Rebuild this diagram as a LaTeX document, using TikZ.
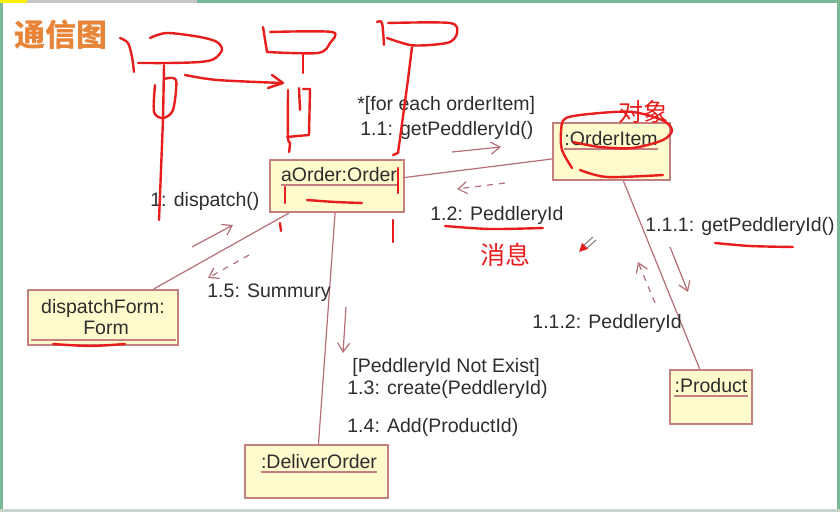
\documentclass[tikz,border=0pt]{standalone}
\usepackage{fontspec}
\setmainfont{Liberation Sans}
\newfontfamily\cjk{Noto Sans CJK SC}
\usetikzlibrary{arrows.meta}

\definecolor{objfill}{RGB}{255,251,204}
\definecolor{objline}{RGB}{196,128,128}
\definecolor{linkline}{RGB}{180,110,118}
\definecolor{msgtext}{RGB}{45,45,45}
\definecolor{penred}{RGB}{232,30,30}
\definecolor{titleorange}{RGB}{232,132,56}
\definecolor{framegreen}{RGB}{124,184,152}

\tikzset{
  objbox/.style={draw=objline, fill=objfill, line width=1pt, inner sep=0pt},
  objname/.style={anchor=base, inner sep=0pt, text depth=0pt, text=msgtext,
    font=\fontsize{9.75}{10.5}\selectfont},
  uline/.style={draw=objline, line width=0.6pt},
  link/.style={draw=linkline, line width=0.6pt},
  msg/.style={draw=linkline, line width=0.6pt, -{Straight Barb[length=4.5pt,width=6pt]}},
  reply/.style={msg, dashed},
  msglabel/.style={anchor=west, inner sep=0pt, text=msgtext,
    font=\fontsize{9.75}{10.5}\selectfont},
  redpen/.style={draw=penred, line width=1.2pt, line cap=round, line join=round},
}

\begin{document}
\begin{tikzpicture}[x=0.5pt, y=-0.5pt]
    \useasboundingbox (0,0) rectangle (840,512);
    % 画面边框 (截图的绿色边)
    \fill[framegreen] (0,0) rectangle (3,512);
    \fill[framegreen] (837,0) rectangle (840,512);
    \fill[yellow] (0,0) rectangle (27,3);
    \fill[gray!45] (27,0) rectangle (197,3);
    \fill[framegreen] (197,0) rectangle (840,3);
    \fill[framegreen!40!gray!40] (0,509) rectangle (840,512);

    % 标题
    \node[text=titleorange, font=\cjk\bfseries\fontsize{15.5}{16}\selectfont] (title) at (61,35) {通信图};

    % --- 对象 ---
    \node[objbox, minimum width=67pt, minimum height=26pt] (order) at (337,186) {};
    \node[objbox, minimum width=58.5pt, minimum height=28.5pt] (item) at (611.5,151.5) {};
    \node[objbox, minimum width=75pt, minimum height=27.5pt] (form) at (103,317.5) {};
    \node[objbox, minimum width=71.5pt, minimum height=26.5pt] (deliver) at (316.5,471.5) {};
    \node[objbox, minimum width=41pt, minimum height=27pt] (product) at (711,397) {};

    % 对象名 (带下划线)
    \node[objname] (ordername) at (339,182) {aOrder:Order};
    \node[objname] (itemname) at (611,146) {:OrderItem};
    \node[objname] (formname) at (103,314) {dispatchForm:};
    \node[objname] (formname2) at (106,335) {Form};
    \node[objname] (delivername) at (319,469) {:DeliverOrder};
    \node[objname] (productname) at (711,393) {:Product};
    \draw[uline] ([yshift=-1.5pt]ordername.base west) -- ([yshift=-1.5pt]ordername.base east);
    \draw[uline] ([yshift=-1.5pt]itemname.base west) -- ([yshift=-1.5pt]itemname.base east);
    \draw[uline] ([xshift=2pt,yshift=3pt]form.south west) -- ([xshift=-1.5pt,yshift=3pt]form.south east);
    \draw[uline] ([yshift=-1.5pt]delivername.base west) -- ([yshift=-1.5pt]delivername.base east);
    \draw[uline] ([yshift=-1.5pt]productname.base west) -- ([yshift=-1.5pt]productname.base east);

    % --- 链接 ---
    \draw[link] (order) -- (item);
    \draw[link] (order) -- (form);
    \draw[link] (order) -- (deliver);
    \draw[link] (item) -- (product);

    % --- 消息箭头 ---
    \coordinate (m11a) at (452,152);  \coordinate (m11b) at (501,147);
    \coordinate (m12a) at (505,183);  \coordinate (m12b) at (457,189);
    \coordinate (m1a) at (192,247);   \coordinate (m1b) at (233,225);
    \coordinate (m15a) at (249,255);  \coordinate (m15b) at (208,278);
    \coordinate (m13a) at (346,307);  \coordinate (m13b) at (343,353);
    \coordinate (m111a) at (670,247); \coordinate (m111b) at (688,292);
    \coordinate (m112a) at (655,303); \coordinate (m112b) at (638,262);
    \draw[msg] (m11a) -- (m11b);
    \draw[reply] (m12a) -- (m12b);
    \draw[msg] (m1a) -- (m1b);
    \draw[reply] (m15a) -- (m15b);
    \draw[msg] (m13a) -- (m13b);
    \draw[msg] (m111a) -- (m111b);
    \draw[reply] (m112a) -- (m112b);

    % 消息文字
    \node[msglabel] (l11g) at (357,105) {*[for each orderItem]};
    \node[msglabel] (l11) at (360,130) {1.1: getPeddleryId()};
    \node[msglabel] (l12) at (430,215) {1.2: PeddleryId};
    \node[msglabel] (l1) at (150,201) {1: dispatch()};
    \node[msglabel] (l15) at (207,293) {1.5: Summury};
    \node[msglabel] (l13g) at (352,367) {[PeddleryId Not Exist]};
    \node[msglabel] (l13) at (347,389) {1.3: create(PeddleryId)};
    \node[msglabel] (l14) at (347,427) {1.4: Add(ProductId)};
    \node[msglabel] (l111) at (645,226) {1.1.1: getPeddleryId()};
    \node[msglabel] (l112) at (532,323) {1.1.2: PeddleryId};

    % --- 红色手写批注 ---
    \node[text=penred, font=\cjk\fontsize{12.5}{13}\selectfont] (objnote) at (643,112) {对象};
    \node[text=penred, font=\cjk\fontsize{12.5}{13}\selectfont] (msgnote) at (505,255) {消息};

    % 左边的小人
    \draw[redpen] plot[smooth] coordinates {(120,38) (128,43) (132,57) (134,72)};
    \draw[redpen] plot[smooth] coordinates {(150,38) (167,33) (200,37) (217,42) (222,50) (214,59) (200,62) (170,63) (138,63)};
    \draw[redpen] plot[smooth] coordinates {(164,65) (163,117) (161,170) (159,220)};
    \draw[redpen] plot[smooth] coordinates {(155,85) (154,112) (163,118) (173,110) (176,80) (164,79)};
    \draw[redpen] plot[smooth] coordinates {(185,75) (217,80) (282,83)};
    \draw[redpen] (272,75) -- (283,83) -- (268,88);
    % 中间的小人
    \draw[redpen] (263,27) -- (267,52);
    \draw[redpen] plot[smooth] coordinates {(270,32) (332,32) (330,43) (318,53) (267,52)};
    \draw[redpen] (303,53) -- (303,73);
    \draw[redpen] plot[smooth] coordinates {(288,90) (288,137) (290,143) (289,152)};
    \draw[redpen] (299,88) -- (300,110);
    \draw[redpen] (303,89) -- (310,89) -- (309,135) -- (287,137);
    % 右边的小人
    \draw[redpen] plot[smooth] coordinates {(377,22) (382,23) (384,45)};
    \draw[redpen] plot[smooth] coordinates {(388,23) (450,23) (457,33) (450,42) (430,45) (410,45) (387,38)};
    \draw[redpen] plot[smooth] coordinates {(412,47) (407,87) (398,153)};
    \draw[redpen] (398,153) -- (393,155);
    % aOrder 上的记号
    \draw[redpen] (285,187) -- (285,203);
    \draw[redpen] plot[smooth] coordinates {(307,200) (335,202) (362,203)};
    \draw[redpen] (398,168) -- (398,193);
    \draw[redpen] (280,223) -- (281,231);
    \draw[redpen] (393,220) -- (393,242);
    % OrderItem 上的圈
    \draw[redpen] plot[smooth] coordinates {(572,168) (562,150) (561,132) (566,118) (600,113) (633,112) (662,120) (672,130) (663,140) (633,148) (600,147) (573,142)};
    \draw[redpen] plot[smooth] coordinates {(580,170) (607,177) (663,175)};
    % 下划线
    \draw[redpen] plot[smooth] coordinates {(445,226) (490,229) (543,228)};
    \draw[redpen] plot[smooth] coordinates {(715,243) (750,246) (793,247)};
    \draw[redpen] plot[smooth] coordinates {(53,344) (90,346) (125,344)};

    % 鼠标指针
    \draw[gray, line width=0.5pt] (593,237) -- (583,246);
    \draw[gray, line width=0.5pt] (596,240) -- (586,249);
    \fill[penred] (579,252) -- (582,243) -- (588,249) -- cycle;
\end{tikzpicture}
\end{document}
